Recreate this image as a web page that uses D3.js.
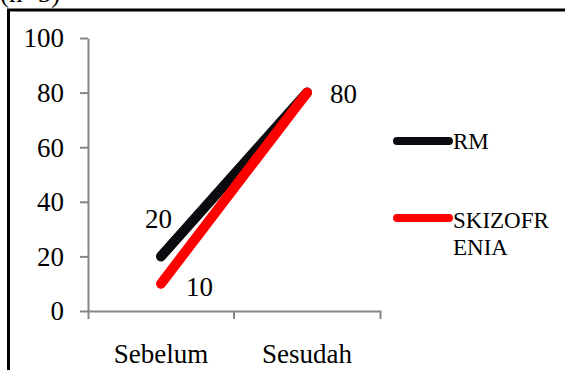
<!DOCTYPE html>
<html>
<head>
<meta charset="utf-8">
<script src="https://cdn.jsdelivr.net/npm/d3@7"></script>
<style>
  html, body { margin: 0; padding: 0; background: #fff; }
  svg { display: block; }
  text { font-family: "Liberation Serif", "Times New Roman", serif; fill: #000; }
</style>
</head>
<body>
<script>
const categories = ["Sebelum", "Sesudah"];
const seriesNames = ["RM", "SKIZOFRENIA"];
const rmValues = [20, 80];
const skizoValues = [10, 80];
const yTicks = [0, 20, 40, 60, 80, 100];
const colors = ["#0b0b0f", "#ff0000"];

const W = 565, H = 370;
const svg = d3.select("body").append("svg").attr("width", W).attr("height", H);

// partially visible caption at the very top
svg.append("text").attr("x", 0).attr("y", 2).attr("font-size", 27).text("(n=5)");

// outer frame (extends beyond the canvas on the right and bottom)
svg.append("rect").attr("x", 8.5).attr("y", 10).attr("width", 640).attr("height", 420)
  .attr("fill", "none").attr("stroke", "#000").attr("stroke-width", 3);

const x = d3.scaleBand().domain(categories).range([88, 380]).paddingInner(0).paddingOuter(0);
const y = d3.scaleLinear().domain([0, 100]).range([311, 38]);
const cx = d => x(d) + x.bandwidth() / 2;

// Y axis
const yAxis = svg.append("g").attr("transform", "translate(88,0)")
  .call(d3.axisLeft(y).tickValues(yTicks).tickSize(8).tickSizeOuter(0).tickPadding(16));
yAxis.select(".domain").attr("stroke", "#868686").attr("stroke-width", 2);
yAxis.selectAll(".tick line").attr("stroke", "#868686").attr("stroke-width", 2);
yAxis.selectAll(".tick text").attr("font-size", 27).attr("font-family", "Liberation Serif, serif").attr("fill", "#000").attr("dy", "0.33em");

// X axis
const xAxis = svg.append("g").attr("transform", "translate(0,311)")
  .call(d3.axisBottom(x).tickSize(0).tickSizeOuter(8).tickPadding(33));
xAxis.select(".domain").attr("stroke", "#868686").attr("stroke-width", 2).attr("fill", "none");
xAxis.selectAll(".tick text").attr("font-size", 27).attr("font-family", "Liberation Serif, serif").attr("fill", "#000");
// tick marks between categories
xAxis.selectAll(".midtick").data(categories.slice(1)).enter().append("line")
  .attr("x1", d => x(d)).attr("x2", d => x(d)).attr("y1", 0).attr("y2", 8)
  .attr("stroke", "#868686").attr("stroke-width", 2);

// Lines
const line = d3.line().x((d, i) => cx(categories[i])).y(d => y(d));
[rmValues, skizoValues].forEach((vals, k) => {
  svg.append("path").attr("d", line(vals)).attr("fill", "none")
    .attr("stroke", colors[k]).attr("stroke-width", 10).attr("stroke-linecap", "round");
});

// Data labels
svg.append("text").attr("font-size", 27).attr("text-anchor", "end")
  .attr("x", cx(categories[0]) + 11).attr("y", y(rmValues[0]) - 28).text(rmValues[0]);
svg.append("text").attr("font-size", 27)
  .attr("x", cx(categories[0]) + 25).attr("y", y(skizoValues[0]) + 12).text(skizoValues[0]);
svg.append("text").attr("font-size", 27)
  .attr("x", cx(categories[1]) + 23).attr("y", y(skizoValues[1]) + 10).text(skizoValues[1]);

// Legend
const legendYs = [141, 218];
seriesNames.forEach((name, k) => {
  svg.append("line").attr("x1", 397).attr("x2", 449).attr("y1", legendYs[k]).attr("y2", legendYs[k])
    .attr("stroke", colors[k]).attr("stroke-width", 8).attr("stroke-linecap", "round");
});
svg.append("text").attr("font-size", 23).attr("x", 453).attr("y", 149).text("RM");
const t2 = svg.append("text").attr("font-size", 23).attr("x", 453).attr("y", 228);
t2.append("tspan").attr("x", 453).text("SKIZOFR");
t2.append("tspan").attr("x", 453).attr("dy", 27).text("ENIA");
</script>
</body>
</html>
